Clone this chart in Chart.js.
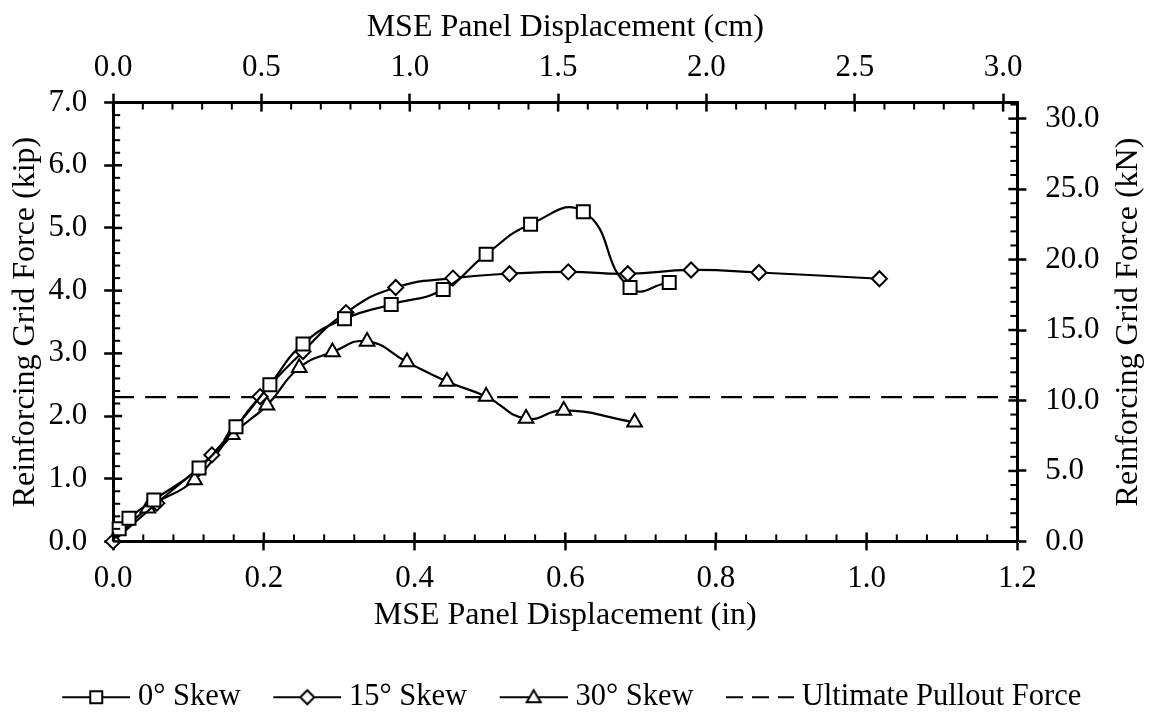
<!DOCTYPE html>
<html>
<head>
<meta charset="utf-8">
<title>Reinforcing Grid Force vs MSE Panel Displacement</title>
<script src="https://cdn.jsdelivr.net/npm/chart.js@4.4.1/dist/chart.umd.min.js"></script>
<style>
    html, body { margin: 0; padding: 0; background: #fff; }
    #chart { display: block; }
</style>
</head>
<body>
<canvas id="chart" width="1151" height="715"></canvas>
<script>
// displacement in inches, force in kip
var skew0X = [0, 0.008, 0.021, 0.054, 0.114, 0.163, 0.208, 0.252, 0.307, 0.369, 0.438, 0.495, 0.554, 0.624, 0.686, 0.738];
var skew0Y = [0, 0.20, 0.37, 0.66, 1.17, 1.83, 2.50, 3.15, 3.55, 3.78, 4.02, 4.58, 5.06, 5.26, 4.05, 4.13];

var skew15X = [0, 0.058, 0.131, 0.195, 0.252, 0.309, 0.375, 0.451, 0.526, 0.604, 0.683, 0.767, 0.857, 1.017];
var skew15Y = [0, 0.61, 1.38, 2.31, 3.03, 3.65, 4.05, 4.20, 4.27, 4.30, 4.27, 4.33, 4.29, 4.19];

var skew30X = [0, 0.046, 0.108, 0.158, 0.204, 0.247, 0.291, 0.337, 0.390, 0.443, 0.495, 0.548, 0.598, 0.692];
var skew30Y = [0, 0.53, 0.98, 1.70, 2.17, 2.77, 3.02, 3.19, 2.86, 2.55, 2.31, 1.96, 2.09, 1.90];

var pulloutX = [0, 1.2];
var pulloutY = [2.30, 2.30];

var seriesLabels = ['0° Skew', '15° Skew', '30° Skew', 'Ultimate Pullout Force'];

var xTitle = 'MSE Panel Displacement (in)';
var x2Title = 'MSE Panel Displacement (cm)';
var yTitle = 'Reinforcing Grid Force (kip)';
var y2Title = 'Reinforcing Grid Force (kN)';

var CM_PER_IN = 2.54;
var KN_PER_KIP = 4.448222;

var FONT = "'Times New Roman', 'Liberation Serif', serif";

function toPoints(xs, ys) {
    return xs.map(function (x, i) { return { x: x, y: ys[i] }; });
}

// little line + marker pictures for the legend
function legendSample(shape, dashed) {
    var m = 22, w = 68;
    var c = document.createElement('canvas');
    c.width = m + w;
    c.height = 22;
    var g = c.getContext('2d');
    g.strokeStyle = '#000';
    g.lineWidth = 2;
    if (dashed) g.setLineDash([17, 9]);
    g.beginPath();
    g.moveTo(m, 11);
    g.lineTo(m + w, 11);
    g.stroke();
    g.setLineDash([]);
    var cx = m + w / 2, cy = 11;
    g.fillStyle = '#fff';
    g.beginPath();
    if (shape === 'rect') {
        g.rect(cx - 6, cy - 6, 12, 12);
    } else if (shape === 'rectRot') {
        g.moveTo(cx - 7, cy); g.lineTo(cx, cy - 7); g.lineTo(cx + 7, cy); g.lineTo(cx, cy + 7); g.closePath();
    } else if (shape === 'triangle') {
        g.moveTo(cx, cy - 7); g.lineTo(cx + 7, cy + 5); g.lineTo(cx - 7, cy + 5); g.closePath();
    } else {
        return c;
    }
    g.fill();
    g.stroke();
    return c;
}

var legendSamples = [
    legendSample('rect', false),
    legendSample('rectRot', false),
    legendSample('triangle', false),
    legendSample('none', true)
];

// minor ticks + inner half of the major ticks, all pointing into the plot
var minorSteps = { x: 0.04, x2: 0.1, y: 0.2, y2: 1 };

var innerTicks = {
    id: 'innerTicks',
    afterDraw: function (chart) {
        var ctx = chart.ctx, a = chart.chartArea;
        ctx.save();
        ctx.strokeStyle = '#000';
        Object.keys(minorSteps).forEach(function (id) {
            var s = chart.scales[id], step = minorSteps[id];
            for (var i = 0; i * step <= s.max + 1e-9; i++) {
                var p = s.getPixelForValue(i * step);
                var len = (i % 5 === 0) ? 9 : 7;
                ctx.lineWidth = (i % 5 === 0) ? 2.5 : 2;
                ctx.beginPath();
                if (id === 'x') { ctx.moveTo(p, a.bottom); ctx.lineTo(p, a.bottom - len); }
                if (id === 'x2') { ctx.moveTo(p, a.top); ctx.lineTo(p, a.top + len); }
                if (id === 'y') { ctx.moveTo(a.left, p); ctx.lineTo(a.left + len, p); }
                if (id === 'y2') { ctx.moveTo(a.right, p); ctx.lineTo(a.right - len, p); }
                ctx.stroke();
            }
        });
        ctx.restore();
    }
};

// right axis title reads bottom-to-top like the left one
var rightTitle = {
    id: 'rightTitle',
    afterDraw: function (chart) {
        var s = chart.scales.y2, ctx = chart.ctx;
        var pad = s.options.title.padding.top || 0;
        ctx.save();
        ctx.translate(s.right - pad - 19.2, (s.top + s.bottom) / 2);
        ctx.rotate(-Math.PI / 2);
        ctx.font = '32px ' + FONT;
        ctx.fillStyle = '#000';
        ctx.textAlign = 'center';
        ctx.textBaseline = 'middle';
        ctx.fillText(y2Title, 0, 0);
        ctx.restore();
    }
};

function oneDecimal(v) { return Number(v).toFixed(1); }

// chart.js counts tick padding twice when sizing a scale, the title padding
// on the plot side takes the extra back
function axis(position, min, max, step, title, tickPad, titlePad) {
    return {
        type: 'linear',
        position: position,
        min: min,
        max: max,
        border: { display: true, color: '#000', width: 3 },
        grid: { display: true, drawOnChartArea: false, drawTicks: true, tickLength: 9, tickWidth: 2.5, tickColor: '#000' },
        ticks: {
            stepSize: step,
            includeBounds: false,
            autoSkip: false,
            maxRotation: 0,
            padding: tickPad,
            color: '#000',
            font: { family: FONT, size: 31 },
            callback: oneDecimal
        },
        title: { display: true, text: title, color: '#000', font: { family: FONT, size: 32 }, padding: titlePad }
    };
}

function lineSet(label, xs, ys, style, radius) {
    return {
        label: label,
        data: toPoints(xs, ys),
        xAxisID: 'x',
        yAxisID: 'y',
        borderColor: '#000',
        borderWidth: 2.2,
        tension: 0.5,
        fill: false,
        clip: false,
        pointStyle: style,
        pointRadius: xs.map(function (x, i) { return (i === 0 && style !== 'rectRot') ? 0 : radius; }),
        pointBorderWidth: 2,
        pointBorderColor: '#000',
        pointBackgroundColor: '#fff'
    };
}

var scales = {
    x: axis('bottom', 0, 1.2, 0.2, xTitle, 10, { top: -11, bottom: 29 }),
    x2: axis('top', 0, 1.2 * CM_PER_IN, 0.5, x2Title, 7, { top: 8, bottom: -4 }),
    y: axis('left', 0, 7, 1, yTitle, 17, { top: 5, bottom: -13 }),
    y2: axis('right', 0, 7 * KN_PER_KIP, 5, y2Title, 19, { top: -20, bottom: -9 })
};
scales.y2.title.color = 'rgba(0,0,0,0)';

var pullout = {
    label: seriesLabels[3],
    data: toPoints(pulloutX, pulloutY),
    xAxisID: 'x',
    yAxisID: 'y',
    borderColor: '#000',
    borderWidth: 2.2,
    borderDash: [21, 11],
    pointRadius: 0,
    tension: 0,
    fill: false
};

new Chart(document.getElementById('chart'), {
    type: 'line',
    data: {
        datasets: [
            lineSet(seriesLabels[0], skew0X, skew0Y, 'rect', 9.2),
            lineSet(seriesLabels[1], skew15X, skew15Y, 'rectRot', 7.5),
            lineSet(seriesLabels[2], skew30X, skew30Y, 'triangle', 8.5),
            pullout
        ]
    },
    options: {
        responsive: false,
        animation: false,
        events: [],
        layout: { padding: { top: 0, left: 1, right: 23, bottom: -7.5 } },
        scales: scales,
        plugins: {
            tooltip: { enabled: false },
            legend: {
                position: 'bottom',
                labels: {
                    usePointStyle: true,
                    pointStyleWidth: 75,
                    padding: 18,
                    color: '#000',
                    font: { family: FONT, size: 30.5 },
                    generateLabels: function (chart) {
                        var items = Chart.defaults.plugins.legend.labels.generateLabels(chart);
                        items.forEach(function (item, i) { item.pointStyle = legendSamples[i]; });
                        return items;
                    }
                }
            }
        }
    },
    plugins: [innerTicks, rightTitle]
});
</script>
</body>
</html>
